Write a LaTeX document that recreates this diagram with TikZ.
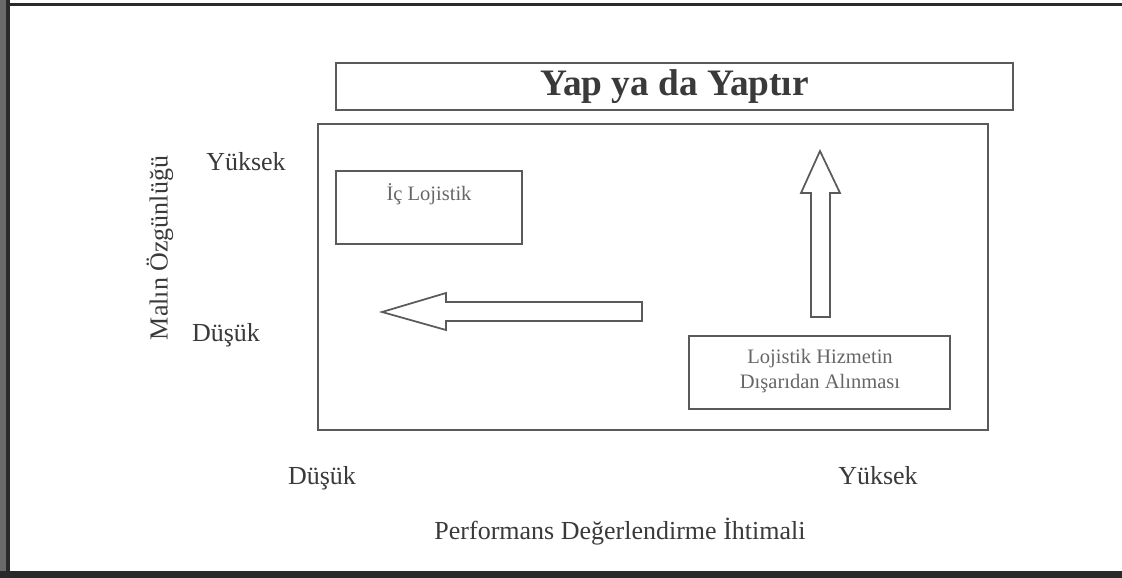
\documentclass[tikz,border=0pt]{standalone}
\usepackage{fontspec}
\setmainfont{Liberation Serif}
\usetikzlibrary{calc}
\definecolor{linegray}{HTML}{5A5A5A}
\definecolor{textdark}{HTML}{3A3A3A}
\definecolor{textlight}{HTML}{666666}
\definecolor{scanedge}{HTML}{2A2A2A}
\begin{document}
\begin{tikzpicture}[x=0.75pt,y=-0.75pt,
  boxline/.style={draw=linegray,line width=1.5pt},
  arrowline/.style={draw=linegray,line width=1.3pt,line join=miter,fill=white},
  axislabel/.style={text=textdark,font=\fontsize{19.5}{22}\selectfont,inner sep=0pt},
  boxlabel/.style={text=textlight,font=\fontsize{15.4}{17.5}\selectfont,inner sep=0pt,align=center}]
  % page and scanned edges
  \useasboundingbox (0,0) rectangle (1122,578);
  \fill[white] (0,0) rectangle (1122,578);
  \fill[scanedge!70] (0,0) rectangle (6,578);
  \fill[scanedge] (6,0) rectangle (10,578);
  \fill[scanedge] (10,3) rectangle (1122,6);
  \fill[scanedge] (0,571) rectangle (1122,578);

  % title box
  \coordinate (t1) at (336,63);
  \coordinate (t2) at (1013,110);
  \draw[boxline] (t1) rectangle (t2);
  \node[text=textdark,font=\fontsize{28}{32}\selectfont\bfseries,inner sep=0pt]
    (title) at ($(t1)!0.5!(t2)$) {Yap ya da Yaptır};

  % main frame
  \coordinate (f1) at (318,124);
  \coordinate (f2) at (988,430);
  \draw[boxline] (f1) rectangle (f2);

  % upper-left box
  \coordinate (i1) at (336,171);
  \coordinate (i2) at (522,244);
  \draw[boxline] (i1) rectangle (i2);
  \node[boxlabel] (ic) at (429,194) {İç Lojistik};

  % lower-right box
  \coordinate (d1) at (689,336);
  \coordinate (d2) at (950,409);
  \draw[boxline] (d1) rectangle (d2);
  \node[boxlabel,align=center] (dis) at (820,371)
    {Lojistik Hizmetin\\[1pt]Dışarıdan Alınması};

  % block arrow pointing left
  \draw[arrowline] (382,312) -- (446,293) -- (446,302) -- (642,302)
    -- (642,321) -- (446,321) -- (446,330) -- cycle;

  % block arrow pointing up
  \draw[arrowline] (820,151) -- (840,193) -- (830,193) -- (830,317)
    -- (811,317) -- (811,193) -- (801,193) -- cycle;

  % axis labels, set on common baselines
  \node[axislabel,anchor=base] (vhigh) at (246,170) {Yüksek};
  \node[axislabel,anchor=base] (vlow) at (226,341) {Düşük};
  \node[axislabel,rotate=90] (vaxis) at (160,248) {Malın Özgünlüğü};
  \node[axislabel,anchor=base] (hlow) at (322,484) {Düşük};
  \node[axislabel,anchor=base] (hhigh) at (878,484) {Yüksek};
  \node[axislabel] (haxis) at (620,532) {Performans Değerlendirme İhtimali};
\end{tikzpicture}
\end{document}
